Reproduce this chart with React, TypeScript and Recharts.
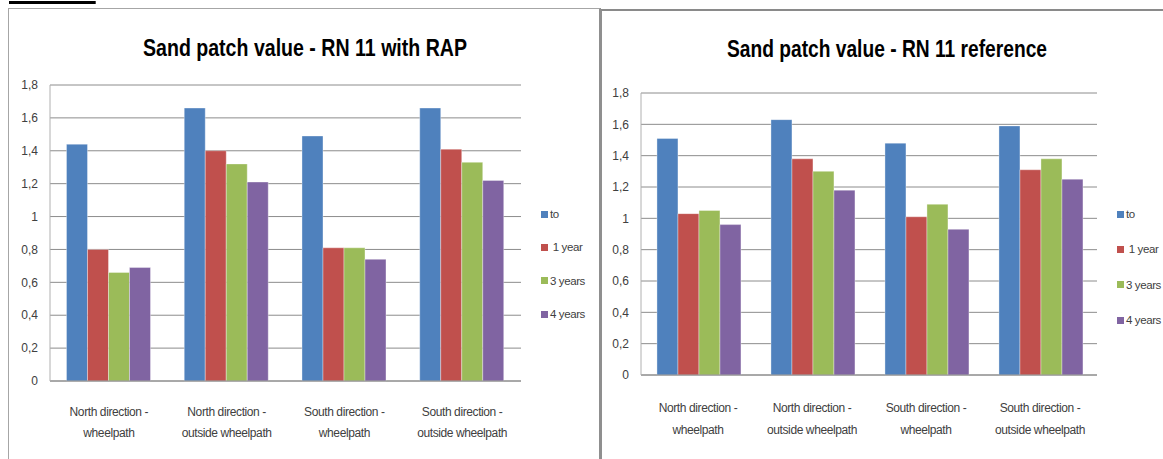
import React from "react";
import { BarChart, Bar, XAxis, YAxis, CartesianGrid } from "recharts";

// Sand patch measurements, RN 11 — one value per category for each survey
const categories = [
    "North direction - wheelpath",
    "North direction - outside wheelpath",
    "South direction - wheelpath",
    "South direction - outside wheelpath",
];
const seriesNames = ["to", " 1 year", "3 years", "4 years"];
const seriesKeys = ["to", "y1", "y3", "y4"];
const COLORS = ["#4F81BD", "#C0504D", "#9BBB59", "#8064A2"];

const yTicks = [0, 0.2, 0.4, 0.6, 0.8, 1, 1.2, 1.4, 1.6, 1.8];

// with RAP
const rapTo = [1.44, 1.66, 1.49, 1.66];
const rap1Year = [0.8, 1.4, 0.81, 1.41];
const rap3Years = [0.66, 1.32, 0.81, 1.33];
const rap4Years = [0.69, 1.21, 0.74, 1.22];

// reference section
const refTo = [1.51, 1.63, 1.48, 1.59];
const ref1Year = [1.03, 1.38, 1.01, 1.31];
const ref3Years = [1.05, 1.3, 1.09, 1.38];
const ref4Years = [0.96, 1.18, 0.93, 1.25];

const FONT = "'Liberation Sans', Arial, sans-serif";
const TEXT = "#404040";

function buildRows(series: number[][]) {
    return categories.map((name, i) => {
        const row: Record<string, string | number> = { name };
        seriesKeys.forEach((k, s) => {
            row[k] = series[s][i];
        });
        return row;
    });
}

const rapData = buildRows([rapTo, rap1Year, rap3Years, rap4Years]);
const refData = buildRows([refTo, ref1Year, ref3Years, ref4Years]);

// eslint-disable-next-line @typescript-eslint/no-explicit-any
const CategoryTick = ({ x, y, payload, dy1, dy2 }: any) => {
    const text: string = payload.value;
    const cut = text.indexOf("- ") + 1;
    const first = text.slice(0, cut);
    const second = text.slice(cut + 1);
    return (
        <g transform={`translate(${x},${y})`}>
            <text textAnchor="middle" fill={TEXT} fontSize={12} fontFamily={FONT} letterSpacing={-0.4}>
                <tspan x={0} dy={dy1}>{first}</tspan>
                <tspan x={0} dy={dy2}>{second}</tspan>
            </text>
        </g>
    );
};

// legend drawn as plain html next to the plot
const LegendBox = ({ left, top, gap }: { left: number; top: number; gap: number }) => (
    <div style={{ position: "absolute", left, top, fontFamily: FONT, fontSize: 11.5, color: TEXT, letterSpacing: -0.4 }}>
        {seriesNames.map((n, i) => (
            <div key={n} style={{ display: "flex", alignItems: "center", height: gap, whiteSpace: "pre" }}>
                <span style={{ width: 7, height: 7, background: COLORS[i], marginRight: 2, display: "inline-block" }} />
                <span>{n}</span>
            </div>
        ))}
    </div>
);

type PanelProps = {
    // eslint-disable-next-line @typescript-eslint/no-explicit-any
    data: any[];
    width: number;
    height: number;
    margin: { top: number; right: number; bottom: number; left: number };
    yWidth: number;
    labelDy: [number, number];
};

function SandPatchPanel({ data, width, height, margin, yWidth, labelDy }: PanelProps) {
    return (
        <BarChart width={width} height={height} data={data} margin={margin} barCategoryGap="14%" barGap={0}>
            <CartesianGrid vertical={false} stroke="#8c8c8c" strokeWidth={1} />
            <XAxis
                dataKey="name"
                interval={0}
                height={60}
                axisLine={{ stroke: "#8c8c8c" }}
                tickLine={false}
                tick={<CategoryTick dy1={labelDy[0]} dy2={labelDy[1]} />}
            />
            <YAxis
                type="number"
                domain={[0, 1.8]}
                ticks={yTicks}
                interval={0}
                width={yWidth}
                axisLine={{ stroke: "#b0b0b0" }}
                tickLine={false}
                tickSize={0}
                tickMargin={12}
                tick={{ fill: TEXT, fontSize: 12, fontFamily: FONT }}
                tickFormatter={(v) => String(v).replace(".", ",")}
            />
            {seriesKeys.map((k, i) => (
                <Bar
                    key={k}
                    dataKey={k}
                    name={seriesNames[i]}
                    fill={COLORS[i]}
                    stroke="#ffffff"
                    strokeOpacity={0.35}
                    strokeWidth={1}
                    isAnimationActive={false}
                />
            ))}
        </BarChart>
    );
}

const Title = ({ cx, y, width, children }: { cx: number; y: number; width: number; children: string }) => (
    <svg style={{ position: "absolute", left: 0, top: 0, overflow: "visible" }} width={1} height={1}>
        <text
            x={cx - width / 2}
            y={y}
            fontFamily={FONT}
            fontSize={23}
            fontWeight="bold"
            fill="#000"
            textLength={width}
            lengthAdjust="spacingAndGlyphs"
        >
            {children}
        </text>
    </svg>
);

export default function App() {
    return (
        <div style={{ position: "fixed", left: 0, top: 0, width: 1163, height: 459, background: "#fff", overflow: "hidden" }}>
            {/* heading above the charts, only its lower edge remains on the page */}
            <div style={{ position: "absolute", left: 9, top: -21, fontFamily: FONT, fontSize: 24, fontWeight: "bold", textDecoration: "underline", textDecorationThickness: 3, textUnderlineOffset: 2, lineHeight: "24px", color: "#000", letterSpacing: 2 }}>
                RN 11:
            </div>

            {/* chart frames */}
            <div style={{ position: "absolute", left: 8, top: 8, width: 590, height: 470, borderLeft: "1px solid #a6a6a6", borderTop: "1px solid #a6a6a6", borderRight: "2px solid #8f8f8f" }} />
            <div style={{ position: "absolute", left: 600, top: 9, width: 600, height: 470, borderTop: "2px solid #8a8a8a", borderLeft: "2px solid #8f8f8f" }} />

            <div style={{ position: "absolute", left: 0, top: 0 }}>
                <SandPatchPanel
                    data={rapData}
                    width={600}
                    height={459}
                    margin={{ top: 85, right: 79, bottom: 18, left: 10 }}
                    yWidth={40}
                    labelDy={[27, 21]}
                />
            </div>
            <LegendBox left={541} top={214 - 16.5} gap={33.3} />
            <Title cx={305} y={56} width={324}>Sand patch value - RN 11 with RAP</Title>

            <div style={{ position: "absolute", left: 600, top: 0 }}>
                <SandPatchPanel
                    data={refData}
                    width={563}
                    height={459}
                    margin={{ top: 93, right: 66, bottom: 24, left: 10 }}
                    yWidth={31}
                    labelDy={[29, 22]}
                />
            </div>
            <LegendBox left={1117} top={214 - 17.5} gap={35.3} />
            <Title cx={887} y={57} width={320}>Sand patch value - RN 11 reference</Title>
        </div>
    );
}
